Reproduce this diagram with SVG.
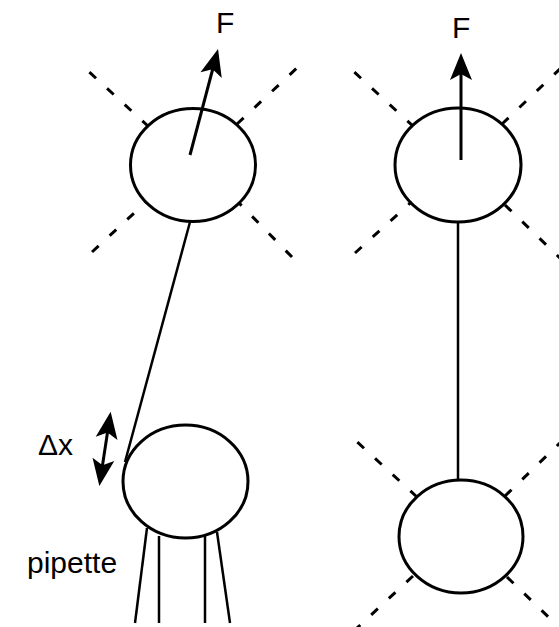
<svg xmlns="http://www.w3.org/2000/svg" width="559" height="627" viewBox="0 0 559 627">
  <style>
    .bead { fill: #fff; stroke: #000; stroke-width: 3; }
    .dash { fill: none; stroke: #000; stroke-width: 3; stroke-dasharray: 9 15; }
    .wire { fill: none; stroke: #000; stroke-width: 2.5; }
    .force { fill: none; stroke: #000; stroke-width: 3; }
    .label { font-family: "Liberation Sans", Arial, sans-serif; fill: #000; }
  </style>
  <defs>
    <marker id="head" markerUnits="userSpaceOnUse" markerWidth="34" markerHeight="28" viewBox="-15 -14 32 28" refX="0" refY="0" orient="auto-start-reverse">
      <path d="M15,0 L-12,-11 L-6,0 L-12,11 Z" fill="#000"/>
    </marker>
  </defs>

  <!-- dashed trap outlines around the beads (inner ends hidden under the bead fill) -->
  <g id="trap-lines">
    <line class="dash" x1="149" y1="127" x2="86" y2="69"/>
    <line class="dash" x1="237" y1="124" x2="298" y2="67"/>
    <line class="dash" x1="151.5" y1="197" x2="92" y2="252"/>
    <line class="dash" x1="235.3" y1="199.2" x2="292" y2="257"/>

    <line class="dash" x1="414" y1="127" x2="352" y2="70"/>
    <line class="dash" x1="502" y1="124" x2="562" y2="67"/>
    <line class="dash" x1="415" y1="198.7" x2="355" y2="253"/>
    <line class="dash" x1="505" y1="205" x2="562" y2="260"/>

    <line class="dash" x1="417" y1="497" x2="355" y2="440"/>
    <line class="dash" x1="505" y1="496" x2="562" y2="441"/>
    <line class="dash" x1="413" y1="576" x2="357" y2="628"/>
    <line class="dash" x1="507" y1="577" x2="562" y2="630"/>
  </g>

  <!-- tethers and pipette -->
  <g id="connectors">
    <line class="wire" x1="190" y1="222" x2="125" y2="462"/>
    <line class="wire" x1="458" y1="222" x2="458" y2="480"/>
    <line class="wire" x1="147" y1="528" x2="135" y2="623"/>
    <line class="wire" x1="159" y1="536" x2="159" y2="623"/>
    <line class="wire" x1="205" y1="536" x2="205" y2="623"/>
    <line class="wire" x1="217" y1="532" x2="230" y2="623"/>
  </g>

  <g id="bead-left-top">
    <ellipse class="bead" cx="193" cy="165" rx="62.5" ry="56.5"/>
  </g>
  <g id="bead-left-pipette">
    <ellipse class="bead" cx="185.5" cy="481.5" rx="62.5" ry="56.5"/>
  </g>
  <g id="bead-right-top">
    <ellipse class="bead" cx="458" cy="165" rx="63" ry="57"/>
  </g>
  <g id="bead-right-bottom">
    <ellipse class="bead" cx="461" cy="536.5" rx="62" ry="56.5"/>
  </g>

  <!-- force arrows -->
  <g id="force-arrows">
    <line class="force" x1="190" y1="155" x2="214.2" y2="63.5" marker-end="url(#head)"/>
    <line class="force" x1="461" y1="160" x2="461" y2="68" marker-end="url(#head)"/>
    <line class="force" x1="101.6" y1="471.2" x2="108.4" y2="426.5" marker-start="url(#head)" marker-end="url(#head)"/>
  </g>

  <g id="labels">
    <text class="label" x="216" y="33" font-size="30">F</text>
    <text class="label" x="452" y="38" font-size="30">F</text>
    <text class="label" x="38" y="455" font-size="30">Δx</text>
    <text class="label" x="27" y="573" font-size="30">pipette</text>
  </g>
</svg>
